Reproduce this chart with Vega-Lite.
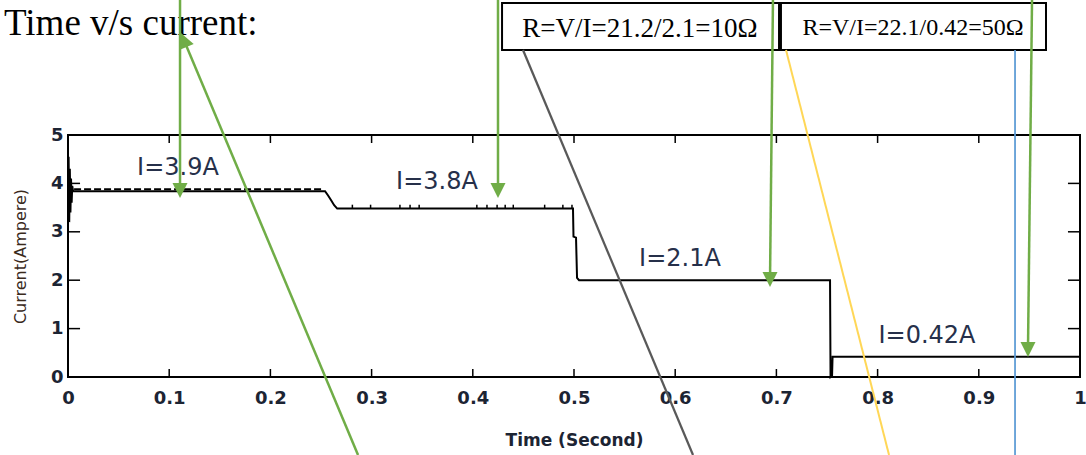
{
  "$schema": "https://vega.github.io/schema/vega-lite/v6.json",
  "width": 1012,
  "height": 242,
  "autosize": {"type": "none"},
  "padding": {"left": 68, "top": 135, "right": 6, "bottom": 78},
  "background": "white",
  "config": {
    "view": {"stroke": "black", "strokeWidth": 2},
    "axis": {"domain": false, "grid": false, "ticks": false, "labelFlush": false}
  },
  "datasets": {
    "current": [
      {"k": 0, "t": 0.0, "i": 3.1},
      {"k": 1, "t": 0.0006, "i": 4.55},
      {"k": 2, "t": 0.0012, "i": 3.2},
      {"k": 3, "t": 0.0018, "i": 4.3},
      {"k": 4, "t": 0.0024, "i": 3.4},
      {"k": 5, "t": 0.003, "i": 4.1},
      {"k": 6, "t": 0.0036, "i": 3.6},
      {"k": 7, "t": 0.0042, "i": 3.95},
      {"k": 8, "t": 0.005, "i": 3.84},
      {"k": 9, "t": 0.254, "i": 3.84},
      {"k": 10, "t": 0.257, "i": 3.75},
      {"k": 11, "t": 0.26, "i": 3.65},
      {"k": 12, "t": 0.263, "i": 3.55},
      {"k": 13, "t": 0.266, "i": 3.48},
      {"k": 14, "t": 0.499, "i": 3.48},
      {"k": 15, "t": 0.4995, "i": 2.9},
      {"k": 16, "t": 0.502, "i": 2.88},
      {"k": 17, "t": 0.503, "i": 2.05},
      {"k": 18, "t": 0.505, "i": 2.0},
      {"k": 19, "t": 0.753, "i": 2.0},
      {"k": 20, "t": 0.7535, "i": 0.0},
      {"k": 21, "t": 0.755, "i": 0.03},
      {"k": 22, "t": 0.7555, "i": 0.42},
      {"k": 23, "t": 1.0, "i": 0.42}
    ],
    "overlay": [
      {"t": 0.006, "i": 3.88},
      {"t": 0.252, "i": 3.88}
    ],
    "spikes": [
      {"t": 0.281}, {"t": 0.299}, {"t": 0.328}, {"t": 0.338}, {"t": 0.347},
      {"t": 0.404}, {"t": 0.414}, {"t": 0.424}, {"t": 0.432}, {"t": 0.44},
      {"t": 0.471}, {"t": 0.489}, {"t": 0.498}
    ],
    "xticks": [
      {"t": 0.1}, {"t": 0.2}, {"t": 0.3}, {"t": 0.4}, {"t": 0.5},
      {"t": 0.6}, {"t": 0.7}, {"t": 0.8}, {"t": 0.9}
    ],
    "yticks": [
      {"v": 1}, {"v": 2}, {"v": 3}, {"v": 4}
    ],
    "heading": [{"t": -0.0632, "v": 7.066, "text": "Time v/s current:"}],
    "levels": [
      {"t": 0.1087, "v": 4.32, "text": "I=3.9A"},
      {"t": 0.3646, "v": 4.03, "text": "I=3.8A"},
      {"t": 0.6047, "v": 2.44, "text": "I=2.1A"},
      {"t": 0.8488, "v": 0.85, "text": "I=0.42A"}
    ],
    "boxes": [
      {"id": "b1", "t1": 0.4289, "t2": 0.7026, "v1": 6.756, "v2": 7.727, "tc": 0.5652, "vc": 7.025, "text": "R=V/I=21.2/2.1=10Ω"},
      {"id": "b2", "t1": 0.7045, "t2": 0.9664, "v1": 6.756, "v2": 7.727, "tc": 0.835, "vc": 7.066, "text": "R=V/I=22.1/0.42=50Ω"}
    ],
    "lines": [
      {"kind": "green", "t1": 0.1107, "v1": 7.8, "t2": 0.1107, "v2": 3.853},
      {"kind": "green", "t1": 0.2866, "v1": -1.612, "t2": 0.1145, "v2": 6.965},
      {"kind": "green", "t1": 0.4249, "v1": 7.8, "t2": 0.4249, "v2": 3.853},
      {"kind": "gray", "t1": 0.4496, "v1": 6.756, "t2": 0.6176, "v2": -1.612},
      {"kind": "green", "t1": 0.6966, "v1": 7.8, "t2": 0.6937, "v2": 2.014},
      {"kind": "yellow", "t1": 0.7095, "v1": 6.756, "t2": 0.8113, "v2": -1.612},
      {"kind": "blue", "t1": 0.9358, "v1": 6.756, "t2": 0.9358, "v2": -1.612},
      {"kind": "green", "t1": 0.9526, "v1": 7.8, "t2": 0.9486, "v2": 0.568}
    ],
    "headsDown": [
      {"t": 0.1107, "v": 3.853},
      {"t": 0.4249, "v": 3.853},
      {"t": 0.6937, "v": 2.014},
      {"t": 0.9486, "v": 0.568}
    ],
    "headsDiag": [
      {"t": 0.1145, "v": 6.965}
    ]
  },
  "layer": [
    {
      "data": {"name": "current"},
      "mark": {"type": "line", "color": "black", "strokeWidth": 2, "interpolate": "linear"},
      "encoding": {
        "x": {
          "field": "t", "type": "quantitative",
          "scale": {"domain": [0, 1], "nice": false, "zero": false},
          "axis": {
            "orient": "bottom",
            "values": [0, 0.1, 0.2, 0.3, 0.4, 0.5, 0.6, 0.7, 0.8, 0.9, 1],
            "format": "~g",
            "labelPadding": 12,
            "labelFont": "DejaVu Sans", "labelFontWeight": "bold", "labelFontSize": 18, "labelColor": "#1c2433",
            "title": "Time (Second)",
            "titleFont": "DejaVu Sans", "titleFontWeight": "bold", "titleFontSize": 17, "titleColor": "#1c2433",
            "titleY": 63, "titleBaseline": "middle"
          }
        },
        "y": {
          "field": "i", "type": "quantitative",
          "scale": {"domain": [0, 5], "nice": false, "zero": false},
          "axis": {
            "orient": "left",
            "values": [0, 1, 2, 3, 4, 5],
            "labelPadding": 5,
            "labelFont": "DejaVu Sans", "labelFontWeight": "bold", "labelFontSize": 18, "labelColor": "#1c2433",
            "title": "Current(Ampere)",
            "titleFont": "DejaVu Sans", "titleFontWeight": "normal", "titleFontSize": 16, "titleColor": "#3a2a1c",
            "titleX": -48, "titleY": 121, "titleBaseline": "middle"
          }
        },
        "order": {"field": "k", "type": "quantitative"}
      }
    },
    {
      "data": {"name": "xticks"},
      "mark": {"type": "rule", "color": "black", "strokeWidth": 1.5},
      "encoding": {
        "x": {"field": "t", "type": "quantitative"},
        "y": {"datum": 0},
        "y2": {"datum": 0.165}
      }
    },
    {
      "data": {"name": "xticks"},
      "mark": {"type": "rule", "color": "black", "strokeWidth": 1.5},
      "encoding": {
        "x": {"field": "t", "type": "quantitative"},
        "y": {"datum": 5},
        "y2": {"datum": 4.835}
      }
    },
    {
      "data": {"name": "yticks"},
      "mark": {"type": "rule", "color": "black", "strokeWidth": 1.5},
      "encoding": {
        "x": {"datum": 0},
        "x2": {"datum": 0.0119},
        "y": {"field": "v", "type": "quantitative"}
      }
    },
    {
      "data": {"name": "yticks"},
      "mark": {"type": "rule", "color": "black", "strokeWidth": 1.5},
      "encoding": {
        "x": {"datum": 1},
        "x2": {"datum": 0.9881},
        "y": {"field": "v", "type": "quantitative"}
      }
    },
    {
      "data": {"name": "overlay"},
      "mark": {"type": "line", "color": "black", "strokeWidth": 2, "strokeDash": [7, 3]},
      "encoding": {
        "x": {"field": "t", "type": "quantitative"},
        "y": {"field": "i", "type": "quantitative"}
      }
    },
    {
      "data": {"name": "spikes"},
      "mark": {"type": "rule", "color": "black", "strokeWidth": 1.5},
      "encoding": {
        "x": {"field": "t", "type": "quantitative"},
        "y": {"datum": 3.48},
        "y2": {"datum": 3.56}
      }
    },
    {
      "data": {"name": "levels"},
      "mark": {"type": "text", "font": "DejaVu Sans", "fontSize": 24, "color": "#26304a", "align": "center", "baseline": "middle"},
      "encoding": {
        "x": {"field": "t", "type": "quantitative"},
        "y": {"field": "v", "type": "quantitative"},
        "text": {"field": "text"}
      }
    },
    {
      "data": {"name": "heading"},
      "mark": {"type": "text", "font": "Liberation Serif", "fontSize": 37, "color": "black", "align": "left", "baseline": "alphabetic"},
      "encoding": {
        "x": {"field": "t", "type": "quantitative"},
        "y": {"field": "v", "type": "quantitative"},
        "text": {"field": "text"}
      }
    },
    {
      "data": {"name": "boxes"},
      "mark": {"type": "rect", "fill": "white", "stroke": "black", "strokeWidth": 2},
      "encoding": {
        "x": {"field": "t1", "type": "quantitative"},
        "x2": {"field": "t2"},
        "y": {"field": "v1", "type": "quantitative"},
        "y2": {"field": "v2"}
      }
    },
    {
      "data": {"name": "boxes"},
      "transform": [{"filter": "datum.id == 'b1'"}],
      "mark": {"type": "text", "font": "Liberation Serif", "fontSize": 27, "color": "black", "align": "center", "baseline": "alphabetic"},
      "encoding": {
        "x": {"field": "tc", "type": "quantitative"},
        "y": {"field": "vc", "type": "quantitative"},
        "text": {"field": "text"}
      }
    },
    {
      "data": {"name": "boxes"},
      "transform": [{"filter": "datum.id == 'b2'"}],
      "mark": {"type": "text", "font": "Liberation Serif", "fontSize": 24, "color": "black", "align": "center", "baseline": "alphabetic"},
      "encoding": {
        "x": {"field": "tc", "type": "quantitative"},
        "y": {"field": "vc", "type": "quantitative"},
        "text": {"field": "text"}
      }
    },
    {
      "data": {"name": "lines"},
      "mark": {"type": "rule"},
      "encoding": {
        "x": {"field": "t1", "type": "quantitative"},
        "x2": {"field": "t2"},
        "y": {"field": "v1", "type": "quantitative"},
        "y2": {"field": "v2"},
        "color": {"field": "kind", "type": "nominal", "legend": null,
                  "scale": {"domain": ["green", "gray", "yellow", "blue"], "range": ["#70AD47", "#595959", "#FFD757", "#5B9BD5"]}},
        "strokeWidth": {"field": "kind", "type": "nominal", "legend": null,
                        "scale": {"domain": ["green", "gray", "yellow", "blue"], "range": [2.5, 1.75, 1.75, 1.75]}}
      }
    },
    {
      "data": {"name": "headsDown"},
      "mark": {"type": "point", "shape": "M-1,-1L1,-1L0,1Z", "size": 225, "filled": true, "color": "#70AD47", "opacity": 1},
      "encoding": {
        "x": {"field": "t", "type": "quantitative"},
        "y": {"field": "v", "type": "quantitative"}
      }
    },
    {
      "data": {"name": "headsDiag"},
      "mark": {"type": "point", "shape": "M-1,1L1,1L0,-1Z", "size": 225, "angle": -22.8, "filled": true, "color": "#70AD47", "opacity": 1},
      "encoding": {
        "x": {"field": "t", "type": "quantitative"},
        "y": {"field": "v", "type": "quantitative"}
      }
    }
  ]
}
